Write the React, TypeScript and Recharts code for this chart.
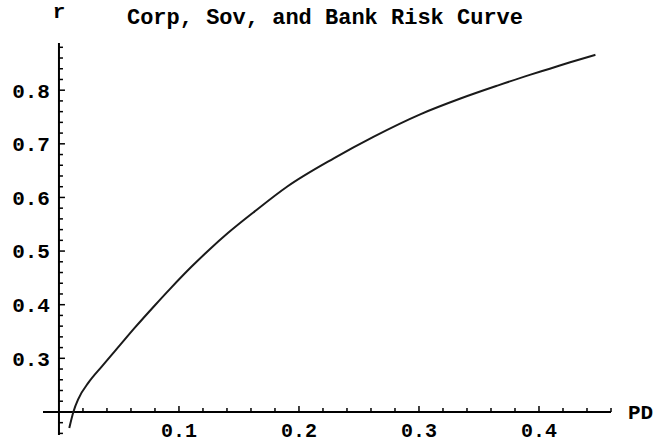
import { ComposedChart, Line, XAxis, YAxis, ReferenceLine, ReferenceDot } from "recharts";

// curve: probability of default vs r
const pd = [
  0.0086, 0.012, 0.0163, 0.0247, 0.0358, 0.051, 0.0636, 0.08, 0.0928, 0.111, 0.125, 0.141,
  0.162, 0.19, 0.229, 0.262, 0.301, 0.334, 0.366, 0.393, 0.409, 0.426, 0.447,
];
const r = [
  0.17, 0.2, 0.225, 0.255, 0.285, 0.325, 0.358, 0.399, 0.43, 0.472, 0.502, 0.534,
  0.572, 0.62, 0.673, 0.713, 0.755, 0.784, 0.809, 0.829, 0.84, 0.852, 0.866,
];

const xTicks = [
  0.02, 0.04, 0.06, 0.08, 0.1, 0.12, 0.14, 0.16, 0.18, 0.2, 0.22, 0.24, 0.26, 0.28, 0.3,
  0.32, 0.34, 0.36, 0.38, 0.4, 0.42, 0.44, 0.46,
];
const xLabels = [0.1, 0.2, 0.3, 0.4];
const yTicks = [
  0.16, 0.18, 0.22, 0.24, 0.26, 0.28, 0.3, 0.32, 0.34, 0.36, 0.38, 0.4, 0.42, 0.44, 0.46,
  0.48, 0.5, 0.52, 0.54, 0.56, 0.58, 0.6, 0.62, 0.64, 0.66, 0.68, 0.7, 0.72, 0.74, 0.76,
  0.78, 0.8, 0.82, 0.84, 0.86, 0.88,
];
const yLabels = [0.3, 0.4, 0.5, 0.6, 0.7, 0.8];

const xOrigin = 0;
const yOrigin = 0.2;

const data = pd.map((x, i) => ({ x, y: r[i] }));

const FONT = "'Liberation Mono', 'DejaVu Sans Mono', monospace";

const isLabel = (list: number[], v: number) => list.some((l) => Math.abs(l - v) < 1e-9);

const XTick = (v: number) => (props: any) => {
  const { cx, cy } = props;
  const major = isLabel(xLabels, v);
  return (
    <g>
      <line x1={cx} y1={cy} x2={cx} y2={cy - (major ? 6 : 4)} stroke="#000" strokeWidth={1.5} />
      {major ? (
        <text x={cx} y={cy + 25} textAnchor="middle" fontFamily={FONT} fontWeight="bold" fontSize={20} fill="#000">
          {v.toFixed(1)}
        </text>
      ) : null}
    </g>
  );
};

const YTick = (v: number) => (props: any) => {
  const { cx, cy } = props;
  const major = isLabel(yLabels, v);
  return (
    <g>
      <line x1={cx} y1={cy} x2={cx + (major ? 6 : 4)} y2={cy} stroke="#000" strokeWidth={1.5} />
      {major ? (
        <text x={cx - 9} y={cy} dy="0.35em" textAnchor="end" fontFamily={FONT} fontWeight="bold" fontSize={21} fill="#000">
          {v.toFixed(1)}
        </text>
      ) : null}
    </g>
  );
};

export default function App() {
  return (
    <div style={{ position: "absolute", left: 0, top: 0, width: 662, height: 443, background: "#fff" }}>
      <div
        style={{
          position: "absolute",
          left: 0,
          top: 8,
          width: 650,
          textAlign: "center",
          fontFamily: FONT,
          fontWeight: "bold",
          fontSize: 22,
          lineHeight: "22px",
          color: "#000",
          whiteSpace: "pre",
        }}
      >
        Corp, Sov, and Bank Risk Curve
      </div>
      <ComposedChart width={662} height={443} data={data} margin={{ top: 43, right: 51, bottom: 8, left: 43 }}>
        <XAxis type="number" dataKey="x" domain={[-0.0133, 0.46]} allowDataOverflow hide />
        <YAxis type="number" dataKey="y" domain={[0.157, 0.888]} allowDataOverflow hide />
        <ReferenceLine
          y={yOrigin}
          stroke="#000"
          strokeWidth={2}
          label={{ value: "PD", position: "right", offset: 17, fontFamily: FONT, fontWeight: "bold", fontSize: 21, fill: "#000" }}
        />
        <ReferenceLine
          x={xOrigin}
          stroke="#000"
          strokeWidth={2}
          label={{ value: "r", position: "top", offset: 25, fontFamily: FONT, fontWeight: "bold", fontSize: 21, fill: "#000" }}
        />
        {xTicks.map((v) => (
          <ReferenceDot key={"x" + v} x={v} y={yOrigin} shape={XTick(v)} />
        ))}
        {yTicks.map((v) => (
          <ReferenceDot key={"y" + v} x={xOrigin} y={v} shape={YTick(v)} />
        ))}
        <Line
          type="monotone"
          dataKey="y"
          stroke="#1a1a1a"
          strokeWidth={2}
          dot={false}
          isAnimationActive={false}
        />
      </ComposedChart>
    </div>
  );
}
